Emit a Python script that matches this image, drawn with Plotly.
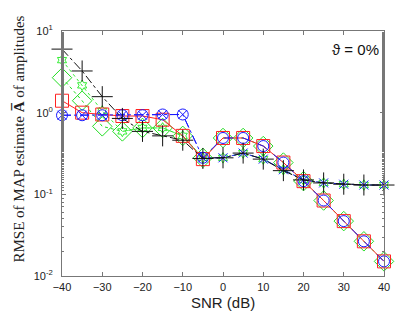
import plotly.graph_objects as go

snr = [-40, -35, -30, -25, -20, -15, -10, -5, 0, 5, 10, 15, 20, 25, 30, 35, 40]

black_plus = [6.0, 3.24, 1.57, 0.85, 0.59, 0.52, 0.46, 0.275, 0.28, 0.32, 0.27, 0.195, 0.15, 0.138, 0.133, 0.13, 0.13]
green_hex = [4.4, 2.16, 1.05, 0.59, 0.65, 0.65, 0.52, 0.28, 0.28, 0.32, 0.27, 0.2, 0.15, 0.138, 0.133, 0.13, 0.13]
green_diamond = [2.68, 1.4, 0.68, 0.59, 0.65, 0.65, 0.52, 0.28, 0.49, 0.49, 0.39, 0.245, 0.145, 0.084, 0.047, 0.0266, 0.0151]
red_square = [1.4, 1.0, 0.95, 0.91, 0.91, 0.82, 0.52, 0.27, 0.49, 0.49, 0.39, 0.245, 0.145, 0.084, 0.047, 0.0266, 0.0151]
blue_circle = [0.93, 0.93, 0.93, 0.93, 0.93, 0.95, 0.95, 0.28, 0.49, 0.49, 0.39, 0.245, 0.145, 0.084, 0.047, 0.0266, 0.0151]
blue_x = [0.93, 0.93, 0.93, 0.93, 0.93, 0.95, 0.95, 0.28, 0.28, 0.32, 0.27, 0.2, 0.15, 0.138, 0.133, 0.13, 0.13]

ytickvals = [0.01, 0.1, 1, 10]
yticktext = ["10<sup>-2</sup>", "10<sup>-1</sup>", "10<sup>0</sup>", "10<sup>1</sup>"]
xtickvals = [-40, -30, -20, -10, 0, 10, 20, 30, 40]

fig = go.Figure()

def add(y, color, symbol, size, dash, width=1):
    fig.add_trace(go.Scatter(
        x=snr, y=y, mode="lines+markers",
        line=dict(color=color, dash=dash, width=width),
        marker=dict(symbol=symbol, size=size, color=color,
                    line=dict(color=color, width=1)),
        showlegend=False, cliponaxis=False))

add(green_diamond, "#22dd22", "diamond-open", 15, "dot")
add(green_hex, "#33ee33", "hexagram-open", 8, "dot")
add(red_square, "#ff2222", "square-open", 13, "solid")
add(blue_circle, "#1a1aff", "circle-open", 11, "dash")
add(blue_x, "#1a1aff", "x-thin-open", 9, "dashdot")
add(black_plus, "#111111", "cross-thin-open", 15, "dashdot")

fig.add_annotation(x=1, y=1, xref="paper", yref="paper",
                   xanchor="right", yanchor="top", xshift=-3, yshift=-8,
                   text="\u03d1 = 0%", showarrow=False,
                   font=dict(family="Liberation Sans", size=15, color="#111111"))

fig.add_annotation(x=0, y=0.5, xref="paper", yref="paper",
                   xanchor="center", yanchor="middle", xshift=-44, yshift=14, textangle=-90,
                   text="RMSE of MAP estimate <b>A\u0305</b> of amplitudes", showarrow=False,
                   font=dict(family="Liberation Serif", size=15, color="#222222"))

fig.add_annotation(x=0.5, y=0, xref="paper", yref="paper",
                   xanchor="center", yanchor="middle", yshift=-26,
                   text="SNR (dB)", showarrow=False,
                   font=dict(family="Liberation Sans", size=15, color="#222222"))

axis_common = dict(showgrid=False, zeroline=False, showline=True, linecolor="#777777",
                   linewidth=1, mirror="allticks", ticks="inside", tickcolor="#777777",
                   ticklen=4, tickfont=dict(family="Liberation Sans", size=11, color="#222222"))

fig.update_xaxes(range=[-40, 40], tickvals=xtickvals, ticklabelstandoff=1, **axis_common)
fig.update_yaxes(type="log", range=[-2, 1], tickvals=ytickvals, ticktext=yticktext,
                 ticklabelstandoff=6,
                 minor=dict(ticks="inside", ticklen=2, tickcolor="#777777", showgrid=False),
                 **axis_common)

fig.update_layout(width=415, height=312, plot_bgcolor="white", paper_bgcolor="white",
                  margin=dict(l=54, r=39, t=23, b=44))

fig.write_html("out.html")
